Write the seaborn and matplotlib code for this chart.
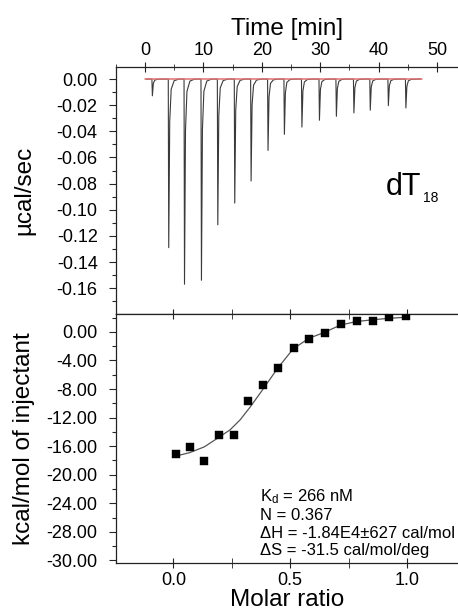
#! /usr/bin/env python3

import matplotlib
matplotlib.use('Agg')
import matplotlib.pyplot as plt
from matplotlib.ticker import MultipleLocator, FixedLocator, FormatStrFormatter
import pandas as pd
import seaborn as sns


# raw thermogram: injection times (min) and peak heights (ucal/sec)
inj_time = [1.2, 4.0, 6.7, 9.6, 12.4, 15.3, 18.1, 21.0, 23.8, 26.8,
            29.8, 32.7, 35.7, 38.5, 41.6, 44.6]
inj_peak = [-0.0128, -0.129, -0.157, -0.154, -0.1115, -0.0949, -0.078,
            -0.0546, -0.0423, -0.0367, -0.0315, -0.0285, -0.0259, -0.0238,
            -0.0203, -0.0221]
run_start, run_end = 0.2, 47.2
base_start, base_end = 0.0, 47.5

# integrated heats
molar_ratio = [0.010, 0.070, 0.132, 0.193, 0.258, 0.319, 0.384, 0.446,
               0.515, 0.581, 0.648, 0.716, 0.784, 0.854, 0.924, 0.996]
heat = [-17.1, -16.1, -18.1, -14.5, -14.4, -9.66, -7.5, -5.04,
        -2.3, -0.94, -0.14, 1.12, 1.58, 1.50, 2.14, 2.28]

# fitted one-site curve
fit_x = [0.021, 0.070, 0.132, 0.193, 0.243, 0.286, 0.329, 0.384, 0.446,
         0.512, 0.580, 0.644, 0.715, 0.784, 0.856, 0.923, 0.999]
fit_y = [-17.3, -16.9, -16.1, -14.8, -13.7, -12.3, -10.5, -8.0, -5.1,
         -2.4, -0.9, -0.1, 0.95, 1.45, 1.7, 1.9, 2.05]

kcal_ticks = [0, -4, -8, -12, -16, -20, -24, -28, -32]
kcal_labels = ['0.00', '-4.00', '-8.00', '-12.00', '-16.00', '-20.00',
               '-24.00', '-28.00', '-30.00']

fit_text = ('K$_\\mathregular{d}$ = 266 nM\nN = 0.367\n'
            '\u0394H = -1.84E4\u00b1627 cal/mol\n\u0394S = -31.5 cal/mol/deg')

# spike shape: offsets after the injection and fraction of the peak
SPIKE_DT = [0.0, 0.08, 0.25, 0.5, 1.0, 1.8]
SPIKE_FR = [0.0, 1.0, 0.25, 0.06, 0.01, 0.0]


def thermogram():
    t, q = [run_start], [0.0]
    for ti, pk in zip(inj_time, inj_peak):
        for dt, fr in zip(SPIKE_DT, SPIKE_FR):
            t.append(ti + dt)
            q.append(pk * fr)
    t.append(run_end)
    q.append(0.0)
    return pd.DataFrame({'t': t, 'q': q})


def main():
    sns.set_style('ticks')
    plt.rcParams['font.family'] = ['Liberation Sans', 'DejaVu Sans']
    plt.rcParams['axes.unicode_minus'] = False
    plt.rcParams['mathtext.default'] = 'regular'
    for key in ('text.color', 'axes.labelcolor', 'xtick.labelcolor',
                'ytick.labelcolor'):
        plt.rcParams[key] = 'black'

    fig = plt.figure(figsize=(4.58, 6.14), dpi=100)
    ax1 = fig.add_axes([0.2526, 0.4886, 0.7474, 0.4028])
    ax2 = fig.add_axes([0.2526, 0.0831, 0.7474, 0.4055])

    # --- top: raw data
    raw = thermogram()
    sns.lineplot(data=raw, x='t', y='q', ax=ax1, sort=False, estimator=None,
                 color='#3a3a3a', lw=0.8)
    base = pd.DataFrame({'t': [base_start, base_end], 'q': [0.0, 0.0]})
    sns.lineplot(data=base, x='t', y='q', ax=ax1, color='#e07070', lw=1.1)
    ax1.set_xlim(-5, 53.6)
    ax1.set_ylim(-0.1798, 0.0095)
    ax1.xaxis.set_label_position('top')
    ax1.xaxis.tick_top()
    ax1.set_xlabel('Time [min]', fontsize=17.5, labelpad=5)
    ax1.set_ylabel('\u00b5cal/sec', fontsize=17.5)
    ax1.xaxis.set_major_locator(MultipleLocator(10))
    ax1.xaxis.set_minor_locator(MultipleLocator(5))
    ax1.yaxis.set_major_locator(MultipleLocator(0.02))
    ax1.yaxis.set_minor_locator(MultipleLocator(0.01))
    ax1.yaxis.set_major_formatter(FormatStrFormatter('%.2f'))
    ax1.tick_params(axis='x', which='both', top=True, bottom=False,
                    direction='inout', labelsize=13, pad=2)
    ax1.tick_params(axis='x', which='major', length=7)
    ax1.tick_params(axis='x', which='minor', length=4)
    ax1.text(0.79, 0.481, 'dT', transform=ax1.transAxes, fontsize=22)
    ax1.text(0.897, 0.452, '18', transform=ax1.transAxes, fontsize=10)

    # --- bottom: integrated heats
    sns.lineplot(x=fit_x, y=fit_y, ax=ax2, color='#555555', lw=0.9)
    sns.scatterplot(x=molar_ratio, y=heat, ax=ax2, marker='s', s=36,
                    color='black', edgecolor='black', linewidth=0.3, zorder=3)
    ax2.set_xlim(-0.247, 1.218)
    ax2.set_ylim(-32.35, 2.5)
    ax2.set_xlabel('Molar ratio', fontsize=17.5, labelpad=0)
    ax2.set_ylabel('kcal/mol of injectant', fontsize=17.5)
    ax2.xaxis.set_major_locator(MultipleLocator(0.5))
    ax2.xaxis.set_minor_locator(MultipleLocator(0.25))
    ax2.xaxis.set_major_formatter(FormatStrFormatter('%.1f'))
    ax2.yaxis.set_major_locator(FixedLocator(kcal_ticks))
    ax2.set_yticklabels(kcal_labels)
    ax2.yaxis.set_minor_locator(MultipleLocator(2))
    ax2.tick_params(axis='x', which='both', top=True, bottom=True,
                    direction='inout', labelsize=13, pad=3, length=7)
    ax2.text(0.423, 0.305, fit_text, transform=ax2.transAxes, fontsize=12,
             va='top', linespacing=1.2)

    for ax in (ax1, ax2):
        for side in ('left', 'top', 'bottom'):
            ax.spines[side].set_linewidth(0.9)
            ax.spines[side].set_color('#222222')
        ax.spines['right'].set_visible(False)
        ax.tick_params(axis='x', which='both', color='#222222')
        ax.tick_params(axis='y', which='both', left=True, right=True,
                       direction='out', labelsize=13, pad=8, width=0.8,
                       labelright=False)
        ax.tick_params(axis='y', which='major', length=5)
        ax.tick_params(axis='y', which='minor', length=3)
        # faint ticks on the right edge, dark ones on the left
        for tl in ax.yaxis.get_ticklines() + ax.yaxis.get_ticklines(minor=True):
            tl.set_color('#222222')
        for tick in ax.yaxis.get_major_ticks() + ax.yaxis.get_minor_ticks():
            tick.tick2line.set_color('#d8d8d8')
        ax.yaxis.set_label_coords(-0.235, 0.5)

    fig.savefig('out.png', dpi=100)


if __name__ == '__main__':
    main()
